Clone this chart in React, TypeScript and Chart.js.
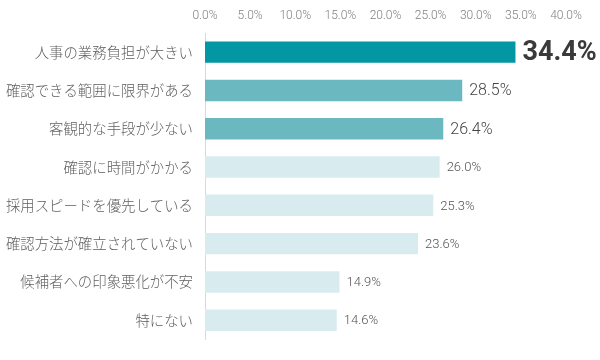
import React, { useEffect, useRef } from "react";
import { Chart, registerables } from "chart.js";

Chart.register(...registerables);

const categories = [
  "人事の業務負担が大きい",
  "確認できる範囲に限界がある",
  "客観的な手段が少ない",
  "確認に時間がかかる",
  "採用スピードを優先している",
  "確認方法が確立されていない",
  "候補者への印象悪化が不安",
  "特にない",
];
const values = [34.4, 28.5, 26.4, 26.0, 25.3, 23.6, 14.9, 14.6];
const barColors = [
  "#0396a3",
  "#6bb8c1",
  "#6bb8c1",
  "#d8ecef",
  "#d8ecef",
  "#d8ecef",
  "#d8ecef",
  "#d8ecef",
];
const labelSizes = [27, 16, 16, 13, 13, 13, 13, 13];
const labelWeights = ["bold", "300", "300", "300", "300", "300", "300", "300"];
const labelColors = ["#3a3a3a", "#444444", "#444444", "#555555", "#555555", "#555555", "#555555", "#555555"];

const FONT = "'Noto Sans CJK JP', 'Noto Sans', sans-serif";
const NUMFONT = "Roboto, 'Noto Sans', sans-serif";

const valueLabels = {
  id: "valueLabels",
  afterDatasetsDraw(chart: any) {
    const ctx = chart.ctx;
    const meta = chart.getDatasetMeta(0);
    ctx.save();
    ctx.textBaseline = "middle";
    ctx.textAlign = "left";
    meta.data.forEach((bar: any, i: number) => {
      ctx.font = `${labelWeights[i]} ${labelSizes[i]}px ${NUMFONT}`;
      ctx.fillStyle = labelColors[i];
      ctx.fillText(values[i].toFixed(1) + "%", bar.x + 7, bar.y + 1);
    });
    ctx.restore();
  },
};

export default function App() {
  const ref = useRef<HTMLCanvasElement>(null);
  useEffect(() => {
    if (!ref.current) return;
    const chart = new Chart(ref.current, {
      type: "bar",
      data: {
        labels: categories,
        datasets: [
          {
            data: values,
            backgroundColor: barColors,
            borderWidth: 0,
            barPercentage: 0.56,
            categoryPercentage: 1,
          },
        ],
      },
      options: {
        indexAxis: "y",
        animation: false,
        responsive: false,
        maintainAspectRatio: false,
        layout: { padding: { left: 0, right: 34, top: 0, bottom: 16 } },
        plugins: { legend: { display: false }, tooltip: { enabled: false } },
        scales: {
          x: {
            position: "top",
            min: 0,
            max: 40,
            afterFit: (axis: any) => {
              axis.height = 33;
            },
            ticks: {
              stepSize: 5,
              color: "#808080",
              font: { family: NUMFONT, size: 12, weight: "300" as any },
              callback: (v: any) => Number(v).toFixed(1) + "%",
              padding: 10,
            },
            grid: { display: false, drawTicks: false },
            border: { display: false },
          },
          y: {
            afterFit: (axis: any) => {
              axis.width = 205;
            },
            ticks: {
              color: "#606060",
              font: { family: FONT, size: 14.4, weight: "300" as any },
              padding: 12,
            },
            grid: { display: false, drawTicks: false },
            border: { display: true, color: "#d9d9d9", width: 1 },
          },
        },
      },
      plugins: [valueLabels],
    });
    return () => chart.destroy();
  }, []);
  return (
    <div style={{ position: "fixed", left: 0, top: 0, width: 600, height: 360, background: "#fff" }}>
      <canvas ref={ref} width={600} height={360} />
    </div>
  );
}
